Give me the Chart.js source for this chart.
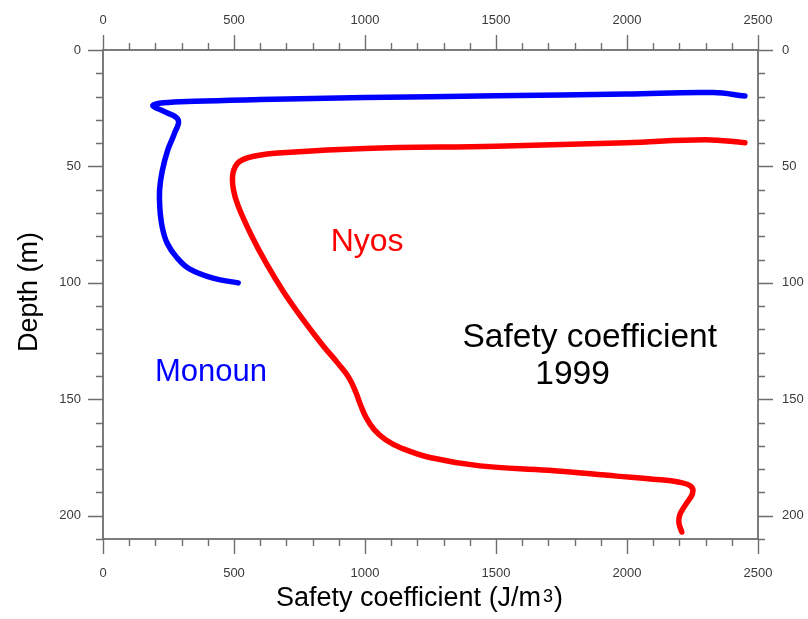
<!DOCTYPE html>
<html>
<head>
<meta charset="utf-8">
<script src="https://cdn.jsdelivr.net/npm/chart.js@4.4.1/dist/chart.umd.min.js"></script>
<style>
  html, body { margin: 0; padding: 0; background: #ffffff; }
  #wrap { width: 808px; height: 619px; }
</style>
</head>
<body>
<div id="wrap"><canvas id="c" width="808" height="619"></canvas></div>
<script>
// ---- data ----
const MONOUN_X = [2450, 2330, 2000, 1500, 1000, 600, 350, 230, 190, 235, 287, 272, 247, 226, 216, 217, 226, 245, 281, 330, 420, 516];
const MONOUN_DEPTH = [19.8, 18.3, 18.9, 19.7, 20.4, 21.3, 22.0, 22.7, 23.9, 26.5, 30, 36, 43, 52, 60, 68, 76, 83, 89, 94, 98, 100];

const NYOS_X = [2450, 2300, 2000, 1500, 1000, 700, 580, 520, 496, 498, 516, 568, 625, 690, 765, 840, 900, 940, 965, 985, 1005, 1035, 1080, 1140, 1248, 1439, 1700, 1961, 2100, 2200, 2245, 2250, 2225, 2202, 2198, 2209];
const NYOS_DEPTH = [39.8, 38.5, 39.8, 41.3, 42.3, 44, 45.5, 48, 53, 60, 67, 80, 92, 104, 116, 127, 135, 141, 147, 153, 158, 163, 167.5, 171, 175, 178.6, 180.5, 183, 184.3, 185.6, 187.5, 190.5, 195, 199.5, 203, 207];

const X_LABELS = [0, 500, 1000, 1500, 2000, 2500];
const Y_LABELS = [0, 50, 100, 150, 200];
const X_MIN = 0, X_MAX = 2500, X_MINOR = 100;
const Y_MIN = 0, Y_MAX = 210, Y_MINOR = 10;

const SERIES_NAMES = ['Monoun', 'Nyos'];
const X_TITLE = 'Safety coefficient (J/m';
const X_TITLE_SUP = '3';
const Y_TITLE = 'Depth (m)';
const NOTE_LINES = ['Safety coefficient', '1999'];

// ---- styles ----
const FONT = '"Liberation Sans", Arial, sans-serif';
const AXIS_COLOR = '#6e6e6e';
const LABEL_COLOR = '#3a3a3a';

const toPts = (xs, ys) => xs.map((x, i) => ({ x: x, y: ys[i] }));

const tickCb = (labels) => (v) => labels.includes(v) ? String(v) : '';

function axisX(position, padding) {
  return {
    type: 'linear', position: position, min: X_MIN, max: X_MAX,
    grid: { display: false, drawTicks: false }, border: { display: false },
    ticks: { stepSize: X_MINOR, autoSkip: false, maxRotation: 0, padding: padding,
             color: LABEL_COLOR, font: { family: FONT, size: 13 }, callback: tickCb(X_LABELS) }
  };
}
function axisY(position, padding) {
  return {
    type: 'linear', position: position, min: Y_MIN, max: Y_MAX, reverse: true,
    grid: { display: false, drawTicks: false }, border: { display: false },
    ticks: { stepSize: Y_MINOR, autoSkip: false, padding: padding,
             color: LABEL_COLOR, font: { family: FONT, size: 13 }, callback: tickCb(Y_LABELS) }
  };
}

const scales = {
  x: Object.assign(axisX('bottom', 27), { afterFit: s => { s.height = 80; } }),
  x2: Object.assign(axisX('top', 22), { afterFit: s => { s.height = 50; } }),
  y: Object.assign(axisY('left', 22), { afterFit: s => { s.width = 103; } }),
  y2: Object.assign(axisY('right', 24), { afterFit: s => { s.width = 50; } })
};

const axesPlugin = {
  id: 'axesBox',
  beforeDatasetsDraw(chart) {
    const { ctx, chartArea: { left, right, top, bottom } } = chart;
    const sx = chart.scales.x, sy = chart.scales.y;
    ctx.save();
    ctx.strokeStyle = AXIS_COLOR;
    ctx.lineWidth = 1.8;
    ctx.strokeRect(left, top, right - left, bottom - top);
    ctx.lineWidth = 1.4;
    ctx.beginPath();
    for (let v = X_MIN; v <= X_MAX; v += X_MINOR) {
      const p = Math.round(sx.getPixelForValue(v)) + 0.5;
      const len = X_LABELS.includes(v) ? 15 : 7;
      ctx.moveTo(p, bottom); ctx.lineTo(p, bottom + len);
      ctx.moveTo(p, top); ctx.lineTo(p, top - len);
    }
    for (let v = Y_MIN; v <= Y_MAX; v += Y_MINOR) {
      const p = Math.round(sy.getPixelForValue(v)) + 0.5;
      const len = Y_LABELS.includes(v) ? 15 : 7;
      ctx.moveTo(left, p); ctx.lineTo(left - len, p);
      ctx.moveTo(right, p); ctx.lineTo(right + len, p);
    }
    ctx.stroke();
    ctx.restore();
  }
};

const textPlugin = {
  id: 'texts',
  afterDraw(chart) {
    const { ctx } = chart;
    const sx = chart.scales.x, sy = chart.scales.y;
    const put = (txt, xv, yv, color, size) => {
      ctx.fillStyle = color;
      ctx.font = size + 'px ' + FONT;
      ctx.textAlign = 'left';
      ctx.textBaseline = 'alphabetic';
      ctx.fillText(txt, sx.getPixelForValue(xv), sy.getPixelForValue(yv));
    };
    ctx.save();
    put(SERIES_NAMES[1], 869, 86.4, '#ff0000', 32);
    put(SERIES_NAMES[0], 198, 142.3, '#0000ff', 31);
    put(NOTE_LINES[0], 1372, 127.5, '#000000', 33.5);
    put(NOTE_LINES[1], 1650, 143.3, '#000000', 33.5);

    // bottom axis title with superscript
    ctx.fillStyle = '#000000';
    ctx.textAlign = 'left';
    ctx.textBaseline = 'alphabetic';
    ctx.font = '27px ' + FONT;
    let x0 = 276, base = 606;
    ctx.fillText(X_TITLE, x0, base);
    x0 += ctx.measureText(X_TITLE).width;
    ctx.font = '18px ' + FONT;
    ctx.fillText(X_TITLE_SUP, x0 + 2, base - 4);
    x0 += ctx.measureText(X_TITLE_SUP).width + 3;
    ctx.font = '27px ' + FONT;
    ctx.fillText(')', x0, base);

    // left axis title rotated
    ctx.translate(37, 292);
    ctx.rotate(-Math.PI / 2);
    ctx.textAlign = 'center';
    ctx.font = '27px ' + FONT;
    ctx.fillText(Y_TITLE, 0, 0);
    ctx.restore();
  }
};

new Chart(document.getElementById('c'), {
  type: 'scatter',
  data: {
    datasets: [
      { label: SERIES_NAMES[0], data: toPts(MONOUN_X, MONOUN_DEPTH), showLine: true,
        borderColor: '#0000ff', backgroundColor: '#0000ff', borderWidth: 5.5, pointRadius: 0,
        tension: 0.4, borderCapStyle: 'round', borderJoinStyle: 'round', xAxisID: 'x', yAxisID: 'y' },
      { label: SERIES_NAMES[1], data: toPts(NYOS_X, NYOS_DEPTH), showLine: true,
        borderColor: '#ff0000', backgroundColor: '#ff0000', borderWidth: 5.5, pointRadius: 0,
        tension: 0.4, borderCapStyle: 'round', borderJoinStyle: 'round', xAxisID: 'x', yAxisID: 'y' }
    ]
  },
  options: {
    responsive: false,
    devicePixelRatio: 1,
    animation: false,
    layout: { padding: 0 },
    plugins: { legend: { display: false }, tooltip: { enabled: false } },
    scales: scales
  },
  plugins: [axesPlugin, textPlugin]
});
</script>
</body>
</html>
